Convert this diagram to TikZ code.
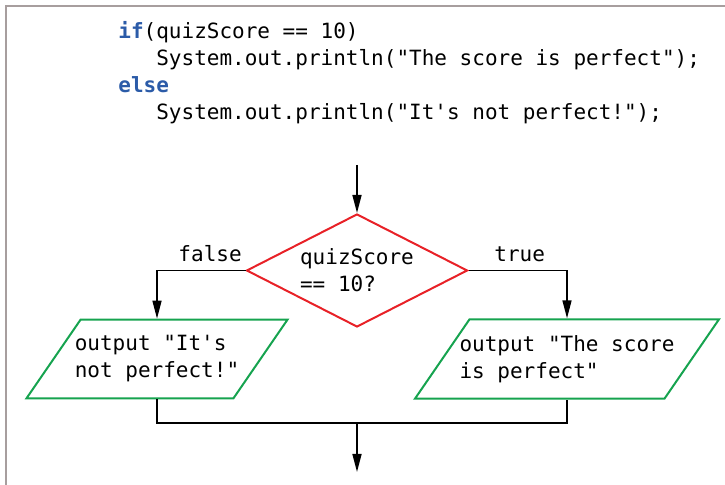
\documentclass[tikz,border=0pt]{standalone}
\usepackage{fontspec}
\setmonofont{DejaVu Sans Mono}
\usepackage{xcolor}
\usetikzlibrary{shapes.geometric, arrows.meta, positioning}
\definecolor{kwblue}{HTML}{2B5BA8}
\definecolor{decred}{HTML}{E82127}
\definecolor{iogreen}{HTML}{16A34F}
\definecolor{framegray}{HTML}{A79E9E}
\tikzstyle{code} = [font=\ttfamily\fontsize{10.5}{13.5}\selectfont, 
inner sep=0pt, 
align=left]
\tikzstyle{decision} = [diamond, 
aspect=1.95, 
minimum width=110.5pt, 
minimum height=56.5pt, 
inner sep=0pt, 
line width=1pt, 
draw=decred]
\tikzstyle{io} = [trapezium, 
trapezium stretches body=true,
trapezium left angle=55.5, 
trapezium right angle=124.5, 
inner xsep=-5.5pt, 
inner ysep=8pt, 
line width=1pt, 
draw=iogreen]
\tikzstyle{line} = [line width=0.75pt]
\tikzstyle{arrow} = [line width=0.75pt, -{Triangle[length=9pt, width=4.5pt]}]

\begin{document}
\begin{tikzpicture}[x=0.5pt, y=-0.5pt]
        \useasboundingbox (0,0) rectangle (725,485);
        \draw [framegray, line width=1pt] (6,485) -- (6,6) -- (725,6);

        % --- Código ---
        \node (source) [code, anchor=base west] at (118,120) {\textcolor{kwblue}{\textbf{if}}(quizScore == 10)\\
        \ \ \ System.out.println("The score is perfect");\\
        \textcolor{kwblue}{\textbf{else}}\\
        \ \ \ System.out.println("It's not perfect!");};

        % --- Nodos ---
        \coordinate (entry) at (357,165);
        \node (check) [code, decision] at (357,270.5) {quizScore\\== 10?};
        \node (notperfect) [code, io, minimum width=130.5pt] at (157,359) {output "It's\\not perfect!"};
        \node (perfect) [code, io, minimum width=152pt] at (567,359) {output "The score\\is perfect"};
        \coordinate (join) at (357,423);
        \coordinate (exit) at (357,472);

        % --- Conexiones ---
        \draw [arrow] (entry) -- (check);
        \draw [arrow] (check.west) -| node [code, pos=0.2, above=4pt] {false} (notperfect.north);
        \draw [arrow] (check.east) -| node [code, pos=0.26, above=4pt] {true} (perfect.north);
        \draw [line] (notperfect.south) |- (join) -| (perfect.south);
        \draw [arrow] (join) -- (exit);

    \end{tikzpicture}
\end{document}
